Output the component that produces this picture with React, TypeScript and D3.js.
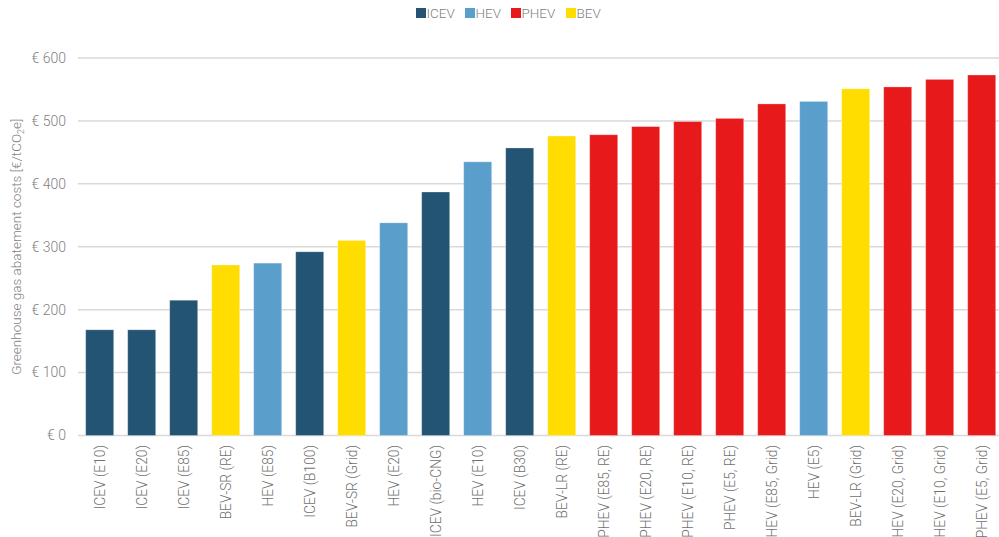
import { useEffect, useRef } from "react"
import * as d3 from "d3"

const categories = [
  "ICEV (E10)", "ICEV (E20)", "ICEV (E85)", "BEV-SR (RE)", "HEV (E85)", "ICEV (B100)",
  "BEV-SR (Grid)", "HEV (E20)", "ICEV (bio-CNG)", "HEV (E10)", "ICEV (B30)", "BEV-LR (RE)",
  "PHEV (E85, RE)", "PHEV (E20, RE)", "PHEV (E10, RE)", "PHEV (E5, RE)", "PHEV (E85, Grid)",
  "HEV (E5)", "BEV-LR (Grid)", "PHEV (E20, Grid)", "PHEV (E10, Grid)", "PHEV (E5, Grid)",
]
const values = [168, 168, 215, 271, 274, 292, 310, 338, 387, 435, 457, 476, 478, 491, 499, 504, 527, 531, 551, 554, 566, 573]
const types = [
  "ICEV", "ICEV", "ICEV", "BEV", "HEV", "ICEV", "BEV", "HEV", "ICEV", "HEV", "ICEV", "BEV",
  "PHEV", "PHEV", "PHEV", "PHEV", "PHEV", "HEV", "BEV", "PHEV", "PHEV", "PHEV",
]
const legendKeys = ["ICEV", "HEV", "PHEV", "BEV"]
const yTicks = [0, 100, 200, 300, 400, 500, 600]

const colors: Record<string, string> = {
  ICEV: "#235473",
  HEV: "#5a9fcc",
  PHEV: "#e8191b",
  BEV: "#ffdd00",
}

export default function App() {
  const svgRef = useRef<SVGSVGElement>(null)

  useEffect(() => {
    if (!svgRef.current) return
    const svg = d3.select(svgRef.current)
    svg.selectAll("*").remove()

    const font = "Roboto, 'Noto Sans', sans-serif"
    const x = d3.scaleBand<string>().domain(categories).range([78.7, 1002.7]).paddingInner(1 / 3).paddingOuter(1 / 6)
    const y = d3.scaleLinear().domain([0, 600]).range([435.5, 58])

    // grid lines
    svg
      .append("g")
      .selectAll("line")
      .data(yTicks)
      .enter()
      .append("line")
      .attr("x1", 78)
      .attr("x2", 999)
      .attr("y1", (d) => y(d))
      .attr("y2", (d) => y(d))
      .attr("stroke", "#d9d9d9")
      .attr("stroke-width", 1.5)

    // y tick labels
    svg
      .append("g")
      .selectAll("text")
      .data(yTicks)
      .enter()
      .append("text")
      .attr("x", 66)
      .attr("y", (d) => y(d))
      .attr("dy", "0.35em")
      .attr("text-anchor", "end")
      .attr("font-family", font)
      .attr("font-size", 14)
      .attr("font-weight", 300)
      .attr("fill", "#7f7f7f")
      .text((d) => `€ ${d}`)

    // y axis title
    const title = svg
      .append("text")
      .attr("transform", `translate(21, ${(y(0) + y(600)) / 2}) rotate(-90)`)
      .attr("text-anchor", "middle")
      .attr("font-family", font)
      .attr("font-size", 13.5)
      .attr("font-weight", 300)
      .attr("fill", "#7f7f7f")
    title.append("tspan").text("Greenhouse gas abatement costs [€/tCO")
    title.append("tspan").attr("font-size", 9).attr("dy", 3).text("2")
    title.append("tspan").attr("dy", -3).text("e]")

    // bars
    svg
      .append("g")
      .selectAll("rect")
      .data(values)
      .enter()
      .append("rect")
      .attr("x", (_, i) => x(categories[i]) as number)
      .attr("y", (d) => y(d))
      .attr("width", x.bandwidth())
      .attr("height", (d) => y(0) - y(d))
      .attr("fill", (_, i) => colors[types[i]])
      .attr("stroke", "rgba(255,255,255,0.35)")
      .attr("stroke-width", 0.8)

    // x labels
    svg
      .append("g")
      .selectAll("text")
      .data(categories)
      .enter()
      .append("text")
      .attr("transform", (d) => `translate(${(x(d) as number) + x.bandwidth() / 2}, 445) rotate(-90)`)
      .attr("dy", "0.35em")
      .attr("text-anchor", "end")
      .attr("font-family", font)
      .attr("font-size", 13.8)
      .attr("font-weight", 300)
      .attr("fill", "#6f6f6f")
      .text((d) => d)

    // legend
    const legendX = [416, 465, 511, 566]
    const legend = svg.append("g")
    legendKeys.forEach((k, i) => {
      const item = legend.append("g").attr("transform", `translate(${legendX[i]}, 8)`)
      item.append("rect").attr("width", 10).attr("height", 10).attr("fill", colors[k])
      item
        .append("text")
        .attr("x", 10.5)
        .attr("y", 5)
        .attr("dy", "0.36em")
        .attr("font-family", font)
        .attr("font-size", 13.5)
        .attr("font-weight", 300)
        .attr("fill", "#7f7f7f")
        .text(k)
    })
  }, [])

  return (
    <div style={{ position: "absolute", left: 0, top: 0, width: 999, height: 537, overflow: "hidden" }}>
      <svg ref={svgRef} width={999} height={537} style={{ display: "block" }} />
    </div>
  )
}
